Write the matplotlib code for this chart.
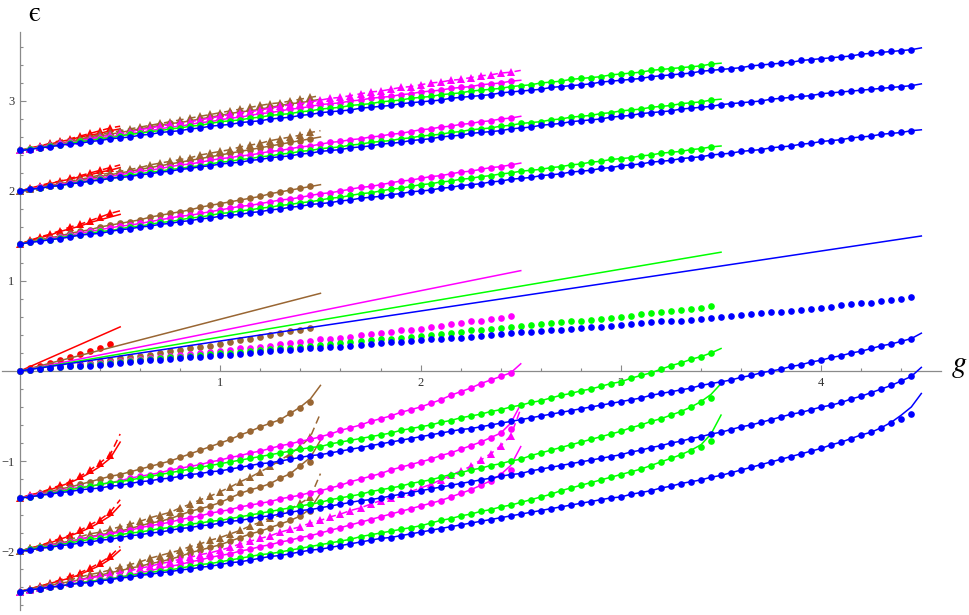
import numpy as np
import matplotlib.pyplot as plt

plt.rcParams['mathtext.fontset'] = 'stix'

STEP = 0.05  # spacing in g of the computed points

RED = '#ff0000'
BROWN = '#996633'
MAGENTA = '#ff00ff'
GREEN = '#00ff00'
BLUE = '#0000ff'

# ---------------- red family (ends at g = 0.5) ----------------
red_up1 = [1.41, 1.45, 1.48, 1.51, 1.55, 1.58, 1.61, 1.65, 1.68, 1.71]
red_up1_end = [1.74]
red_up1_tri = [1.41, 1.45, 1.49, 1.52, 1.56, 1.60, 1.63, 1.67, 1.71, 1.75]
red_up1_tri_end = [1.78]
red_up2 = [2.00, 2.03, 2.05, 2.08, 2.11, 2.13, 2.16, 2.18, 2.21, 2.23]
red_up2_end = [2.26]
red_up2_tri = [2.00, 2.03, 2.06, 2.09, 2.11, 2.14, 2.17, 2.20, 2.23, 2.26]
red_up2_tri_end = [2.29]
red_up3 = [2.45, 2.47, 2.50, 2.52, 2.55, 2.57, 2.60, 2.62, 2.64, 2.67]
red_up3_end = [2.69]
red_up3_tri = [2.45, 2.48, 2.50, 2.53, 2.56, 2.58, 2.61, 2.64, 2.67, 2.70]
red_up3_tri_end = [2.72]
red_lo1 = [-1.41, -1.38, -1.35, -1.32, -1.28, -1.24, -1.19, -1.13, -1.06, -0.97]
red_lo1_end = [-0.79]
red_lo1_tri = [-1.41, -1.38, -1.35, -1.31, -1.27, -1.23, -1.17, -1.10, -1.02, -0.93]
red_lo1_tri_end = [-0.70]
red_lo2 = [-2.00, -1.97, -1.94, -1.91, -1.87, -1.83, -1.79, -1.74, -1.68, -1.61]
red_lo2_end = [-1.49]
red_lo2_tri = [-2.00, -1.97, -1.94, -1.90, -1.86, -1.82, -1.77, -1.71, -1.65, -1.57]
red_lo2_tri_end = [-1.43]
red_lo3 = [-2.45, -2.42, -2.39, -2.36, -2.33, -2.30, -2.26, -2.21, -2.16, -2.09]
red_lo3_end = [-1.99]
red_lo3_tri = [-2.45, -2.42, -2.39, -2.36, -2.32, -2.28, -2.24, -2.19, -2.13, -2.06]
red_lo3_tri_end = [-1.95]
red_mid = [0.00, 0.03, 0.06, 0.09, 0.12, 0.15, 0.185, 0.22, 0.255, 0.295]
red_mid_line = [0.0, 0.49]

# ---------------- brown family (ends at g = 1.5) ----------------
brown_up1 = [1.41, 1.44, 1.46, 1.48, 1.50, 1.53, 1.55, 1.57, 1.60, 1.62,
             1.64, 1.66, 1.68, 1.71, 1.73, 1.75, 1.77, 1.79, 1.82, 1.84,
             1.86, 1.88, 1.90, 1.92, 1.94, 1.97, 1.99, 2.01, 2.03, 2.05]
brown_up1_end = [2.07]
brown_up2 = [2.00, 2.02, 2.04, 2.06, 2.08, 2.10, 2.12, 2.14, 2.16, 2.18,
             2.20, 2.22, 2.24, 2.26, 2.28, 2.30, 2.32, 2.34, 2.36, 2.38,
             2.40, 2.42, 2.44, 2.46, 2.48, 2.50, 2.52, 2.54, 2.56, 2.58]
brown_up2_end = [2.60]
brown_up2_tri = [2.00, 2.02, 2.04, 2.07, 2.09, 2.11, 2.13, 2.15, 2.18, 2.20,
                 2.22, 2.24, 2.26, 2.29, 2.31, 2.33, 2.35, 2.37, 2.40, 2.42,
                 2.44, 2.46, 2.49, 2.51, 2.53, 2.56, 2.58, 2.60, 2.62, 2.65]
brown_up2_tri_end = [2.67]
brown_up3 = [2.45, 2.47, 2.49, 2.51, 2.53, 2.55, 2.57, 2.59, 2.61, 2.63,
             2.65, 2.67, 2.69, 2.71, 2.73, 2.75, 2.76, 2.78, 2.80, 2.82,
             2.84, 2.86, 2.88, 2.89, 2.91, 2.93, 2.95, 2.97, 2.98, 3.00]
brown_up3_end = [3.02]
brown_up3_tri = [2.45, 2.47, 2.49, 2.52, 2.54, 2.56, 2.58, 2.60, 2.63, 2.65,
                 2.67, 2.69, 2.71, 2.73, 2.75, 2.77, 2.79, 2.81, 2.83, 2.85,
                 2.87, 2.89, 2.91, 2.93, 2.95, 2.97, 2.98, 3.00, 3.02, 3.04]
brown_up3_tri_end = [3.06]
brown_lo1 = [-1.41, -1.39, -1.36, -1.34, -1.31, -1.29, -1.26, -1.23, -1.20, -1.17,
             -1.15, -1.12, -1.09, -1.06, -1.03, -1.00, -0.96, -0.92, -0.88, -0.84,
             -0.80, -0.76, -0.71, -0.67, -0.62, -0.58, -0.54, -0.47, -0.41, -0.34]
brown_lo1_end = [-0.40, -0.31, -0.16]
brown_lo2 = [-2.00, -1.98, -1.96, -1.93, -1.91, -1.89, -1.87, -1.84, -1.82, -1.80,
             -1.78, -1.75, -1.72, -1.69, -1.67, -1.64, -1.60, -1.56, -1.53, -1.50,
             -1.46, -1.41, -1.36, -1.32, -1.29, -1.25, -1.19, -1.14, -1.06, -1.01]
brown_lo2_end = [-1.05, -0.96, -0.77]
brown_lo2_tri = [-2.00, -1.97, -1.95, -1.92, -1.90, -1.87, -1.84, -1.81, -1.79, -1.76,
                 -1.73, -1.70, -1.67, -1.63, -1.60, -1.57, -1.52, -1.48, -1.43, -1.39,
                 -1.34, -1.29, -1.23, -1.18, -1.12, -1.06, -0.99, -0.92, -0.84, -0.73]
brown_lo2_tri_end = [-0.47]
brown_lo3 = [-2.45, -2.43, -2.40, -2.38, -2.36, -2.34, -2.32, -2.29, -2.27, -2.24,
             -2.22, -2.19, -2.17, -2.14, -2.12, -2.09, -2.06, -2.02, -1.99, -1.96,
             -1.93, -1.89, -1.85, -1.81, -1.78, -1.74, -1.70, -1.66, -1.61, -1.56]
brown_lo3_end = [-1.53, -1.36]
brown_lo3_tri = [-2.45, -2.42, -2.40, -2.37, -2.35, -2.32, -2.29, -2.26, -2.24, -2.21,
                 -2.18, -2.15, -2.12, -2.08, -2.05, -2.02, -1.99, -1.95, -1.92, -1.88,
                 -1.85, -1.81, -1.77, -1.72, -1.68, -1.63, -1.58, -1.53, -1.47, -1.40]
brown_lo3_tri_end = [-1.14]
brown_mid = [0.00, 0.01, 0.03, 0.04, 0.05, 0.07, 0.08, 0.09, 0.11, 0.12,
             0.14, 0.15, 0.17, 0.18, 0.20, 0.22, 0.23, 0.25, 0.27, 0.28,
             0.30, 0.32, 0.34, 0.36, 0.38, 0.40, 0.42, 0.44, 0.46, 0.48]
brown_mid_line = [0.0, 0.863]

# ---------------- magenta family (ends at g = 2.5) ----------------
mag_up1 = [1.41, 1.43, 1.45, 1.47, 1.49, 1.51, 1.53, 1.55, 1.57, 1.59,
           1.61, 1.62, 1.64, 1.66, 1.68, 1.70, 1.72, 1.73, 1.75, 1.77,
           1.79, 1.81, 1.83, 1.84, 1.86, 1.88, 1.90, 1.91, 1.93, 1.95,
           1.97, 1.98, 2.00, 2.02, 2.04, 2.05, 2.07, 2.09, 2.11, 2.12,
           2.14, 2.16, 2.17, 2.19, 2.21, 2.22, 2.24, 2.26, 2.27, 2.29]
mag_up1_end = [2.31]
mag_up2 = [2.00, 2.02, 2.04, 2.05, 2.07, 2.09, 2.11, 2.13, 2.14, 2.16,
           2.18, 2.20, 2.22, 2.23, 2.25, 2.27, 2.29, 2.30, 2.32, 2.34,
           2.36, 2.37, 2.39, 2.40, 2.42, 2.44, 2.45, 2.47, 2.49, 2.50,
           2.52, 2.54, 2.55, 2.57, 2.58, 2.60, 2.61, 2.63, 2.64, 2.66,
           2.68, 2.69, 2.71, 2.72, 2.74, 2.75, 2.77, 2.78, 2.80, 2.81]
mag_up2_end = [2.83]
mag_up3 = [2.45, 2.47, 2.48, 2.50, 2.52, 2.54, 2.55, 2.57, 2.59, 2.60,
           2.62, 2.64, 2.65, 2.67, 2.69, 2.71, 2.72, 2.74, 2.76, 2.77,
           2.79, 2.81, 2.82, 2.84, 2.86, 2.87, 2.89, 2.91, 2.92, 2.94,
           2.96, 2.97, 2.98, 3.00, 3.01, 3.03, 3.04, 3.05, 3.07, 3.08,
           3.10, 3.11, 3.12, 3.14, 3.15, 3.16, 3.18, 3.19, 3.20, 3.22]
mag_up3_end = [3.23]
mag_up3_tri = [2.45, 2.47, 2.49, 2.51, 2.53, 2.54, 2.56, 2.58, 2.60, 2.62,
               2.64, 2.66, 2.68, 2.70, 2.72, 2.74, 2.75, 2.77, 2.79, 2.81,
               2.83, 2.85, 2.87, 2.88, 2.90, 2.92, 2.94, 2.96, 2.97, 2.99,
               3.01, 3.03, 3.04, 3.06, 3.08, 3.10, 3.11, 3.13, 3.15, 3.16,
               3.18, 3.20, 3.21, 3.23, 3.24, 3.26, 3.28, 3.29, 3.31, 3.32]
mag_up3_tri_end = [3.34]
mag_lo1 = [-1.41, -1.39, -1.37, -1.35, -1.33, -1.31, -1.29, -1.28, -1.26, -1.24,
           -1.22, -1.19, -1.17, -1.15, -1.13, -1.10, -1.08, -1.06, -1.04, -1.01,
           -0.99, -0.96, -0.94, -0.91, -0.89, -0.86, -0.83, -0.81, -0.78, -0.76,
           -0.73, -0.70, -0.66, -0.63, -0.60, -0.56, -0.53, -0.50, -0.46, -0.43,
           -0.40, -0.36, -0.32, -0.27, -0.23, -0.19, -0.14, -0.10, -0.06, -0.02]
mag_lo1_end = [0.08]
mag_lo2 = [-2.00, -1.98, -1.96, -1.94, -1.92, -1.90, -1.87, -1.85, -1.83, -1.81,
           -1.79, -1.77, -1.74, -1.72, -1.70, -1.68, -1.65, -1.63, -1.61, -1.58,
           -1.56, -1.54, -1.51, -1.49, -1.47, -1.45, -1.42, -1.40, -1.38, -1.35,
           -1.33, -1.30, -1.27, -1.23, -1.20, -1.17, -1.14, -1.10, -1.07, -1.04,
           -1.01, -0.98, -0.94, -0.91, -0.87, -0.83, -0.79, -0.74, -0.69, -0.64]
mag_lo2_end = [-0.58, -0.37]
mag_lo3 = [-2.45, -2.43, -2.42, -2.40, -2.39, -2.37, -2.35, -2.34, -2.32, -2.31,
           -2.29, -2.27, -2.24, -2.22, -2.19, -2.17, -2.15, -2.12, -2.10, -2.07,
           -2.05, -2.03, -2.00, -1.98, -1.95, -1.93, -1.90, -1.88, -1.85, -1.83,
           -1.80, -1.77, -1.74, -1.71, -1.68, -1.65, -1.62, -1.59, -1.56, -1.53,
           -1.50, -1.47, -1.44, -1.40, -1.36, -1.32, -1.27, -1.22, -1.16, -1.10]
mag_lo3_end = [-1.15, -1.05, -0.84]
mag_lo3_tri = [-2.45, -2.43, -2.41, -2.39, -2.37, -2.35, -2.32, -2.30, -2.28, -2.26,
               -2.24, -2.22, -2.19, -2.17, -2.14, -2.12, -2.09, -2.07, -2.04, -2.02,
               -1.99, -1.96, -1.92, -1.89, -1.86, -1.83, -1.79, -1.76, -1.73, -1.69,
               -1.66, -1.62, -1.59, -1.55, -1.52, -1.48, -1.44, -1.41, -1.37, -1.34,
               -1.30, -1.26, -1.21, -1.16, -1.11, -1.06, -0.99, -0.92, -0.83, -0.72]
mag_lo3_tri_end = [-0.42]
mag_mid = [0.00, 0.01, 0.02, 0.03, 0.04, 0.06, 0.07, 0.08, 0.09, 0.10,
           0.11, 0.12, 0.13, 0.14, 0.15, 0.17, 0.18, 0.19, 0.20, 0.21,
           0.22, 0.23, 0.25, 0.26, 0.27, 0.28, 0.30, 0.31, 0.32, 0.33,
           0.35, 0.36, 0.37, 0.38, 0.40, 0.41, 0.42, 0.43, 0.45, 0.46,
           0.47, 0.49, 0.50, 0.52, 0.53, 0.55, 0.56, 0.58, 0.59, 0.61]
mag_mid_line = [0.0, 1.115]

# ---------------- green family (ends at g = 3.5) ----------------
green_up1 = [1.41, 1.43, 1.45, 1.46, 1.48, 1.50, 1.51, 1.53, 1.55, 1.56,
             1.58, 1.60, 1.61, 1.63, 1.65, 1.66, 1.68, 1.70, 1.71, 1.73,
             1.75, 1.76, 1.78, 1.79, 1.81, 1.82, 1.84, 1.85, 1.87, 1.88,
             1.90, 1.92, 1.93, 1.95, 1.97, 1.98, 2.00, 2.02, 2.03, 2.05,
             2.07, 2.08, 2.10, 2.11, 2.13, 2.14, 2.16, 2.17, 2.19, 2.20,
             2.22, 2.23, 2.24, 2.26, 2.27, 2.29, 2.30, 2.32, 2.33, 2.35,
             2.36, 2.37, 2.39, 2.40, 2.42, 2.43, 2.44, 2.46, 2.47, 2.49]
green_up1_end = [2.50]
green_up2 = [2.00, 2.02, 2.03, 2.05, 2.06, 2.08, 2.10, 2.11, 2.13, 2.14,
             2.16, 2.18, 2.19, 2.21, 2.22, 2.24, 2.25, 2.27, 2.28, 2.30,
             2.32, 2.33, 2.35, 2.36, 2.38, 2.39, 2.41, 2.42, 2.44, 2.45,
             2.47, 2.48, 2.49, 2.51, 2.52, 2.54, 2.55, 2.56, 2.58, 2.59,
             2.61, 2.62, 2.63, 2.65, 2.66, 2.68, 2.69, 2.70, 2.72, 2.73,
             2.75, 2.76, 2.77, 2.79, 2.80, 2.82, 2.83, 2.84, 2.86, 2.87,
             2.89, 2.90, 2.91, 2.93, 2.94, 2.95, 2.97, 2.98, 2.99, 3.01]
green_up2_end = [3.02]
green_up3 = [2.45, 2.47, 2.48, 2.50, 2.51, 2.53, 2.55, 2.56, 2.58, 2.59,
             2.61, 2.63, 2.64, 2.66, 2.67, 2.69, 2.70, 2.72, 2.73, 2.75,
             2.77, 2.78, 2.79, 2.81, 2.82, 2.84, 2.85, 2.86, 2.88, 2.89,
             2.91, 2.92, 2.93, 2.95, 2.96, 2.97, 2.99, 3.00, 3.01, 3.03,
             3.04, 3.05, 3.07, 3.08, 3.09, 3.11, 3.12, 3.13, 3.14, 3.16,
             3.17, 3.18, 3.20, 3.21, 3.22, 3.24, 3.25, 3.26, 3.27, 3.29,
             3.30, 3.31, 3.32, 3.34, 3.35, 3.36, 3.37, 3.38, 3.39, 3.41]
green_up3_end = [3.42]
green_lo1 = [-1.41, -1.40, -1.38, -1.36, -1.34, -1.32, -1.30, -1.28, -1.26, -1.24,
             -1.23, -1.21, -1.19, -1.17, -1.15, -1.13, -1.11, -1.09, -1.07, -1.05,
             -1.03, -1.01, -0.99, -0.97, -0.95, -0.93, -0.91, -0.89, -0.87, -0.85,
             -0.84, -0.81, -0.79, -0.77, -0.75, -0.73, -0.71, -0.69, -0.66, -0.64,
             -0.62, -0.60, -0.57, -0.55, -0.52, -0.50, -0.48, -0.45, -0.43, -0.40,
             -0.38, -0.35, -0.33, -0.30, -0.27, -0.25, -0.22, -0.20, -0.17, -0.14,
             -0.12, -0.08, -0.05, -0.02, 0.02, 0.06, 0.09, 0.13, 0.16, 0.20]
green_lo1_end = [0.25]
green_lo2 = [-2.00, -1.98, -1.96, -1.95, -1.93, -1.91, -1.89, -1.87, -1.86, -1.84,
             -1.82, -1.80, -1.79, -1.77, -1.75, -1.74, -1.72, -1.70, -1.69, -1.67,
             -1.66, -1.64, -1.62, -1.60, -1.58, -1.56, -1.54, -1.52, -1.50, -1.48,
             -1.46, -1.43, -1.41, -1.39, -1.37, -1.34, -1.32, -1.30, -1.28, -1.25,
             -1.23, -1.21, -1.18, -1.15, -1.13, -1.10, -1.08, -1.05, -1.03, -1.00,
             -0.98, -0.94, -0.91, -0.88, -0.85, -0.82, -0.79, -0.76, -0.73, -0.70,
             -0.67, -0.63, -0.60, -0.56, -0.53, -0.49, -0.45, -0.40, -0.35, -0.30]
green_lo2_end = [-0.34, -0.26, -0.14]
green_lo3 = [-2.45, -2.43, -2.42, -2.40, -2.39, -2.37, -2.35, -2.34, -2.32, -2.31,
             -2.29, -2.27, -2.26, -2.24, -2.22, -2.21, -2.19, -2.17, -2.15, -2.14,
             -2.12, -2.10, -2.08, -2.06, -2.04, -2.03, -2.01, -1.99, -1.97, -1.95,
             -1.93, -1.91, -1.89, -1.87, -1.84, -1.82, -1.80, -1.78, -1.76, -1.74,
             -1.72, -1.69, -1.66, -1.64, -1.61, -1.59, -1.56, -1.54, -1.51, -1.49,
             -1.46, -1.43, -1.40, -1.37, -1.33, -1.30, -1.27, -1.24, -1.21, -1.18,
             -1.15, -1.12, -1.09, -1.05, -1.01, -0.97, -0.93, -0.89, -0.84, -0.78]
green_lo3_end = [-0.88, -0.82, -0.70, -0.49]
green_mid = [0.00, 0.01, 0.02, 0.03, 0.04, 0.05, 0.06, 0.07, 0.08, 0.09,
             0.10, 0.11, 0.12, 0.13, 0.14, 0.15, 0.16, 0.17, 0.18, 0.19,
             0.20, 0.20, 0.21, 0.22, 0.23, 0.24, 0.25, 0.26, 0.27, 0.28,
             0.29, 0.30, 0.31, 0.32, 0.33, 0.34, 0.35, 0.36, 0.37, 0.38,
             0.39, 0.40, 0.41, 0.42, 0.43, 0.45, 0.46, 0.47, 0.48, 0.49,
             0.50, 0.51, 0.52, 0.53, 0.54, 0.55, 0.56, 0.57, 0.58, 0.59,
             0.60, 0.61, 0.63, 0.64, 0.65, 0.67, 0.68, 0.69, 0.70, 0.72]
green_mid_line = [0.0, 1.32]

# ---------------- blue family (ends at g = 4.5) ----------------
blue_up1 = [1.41, 1.43, 1.44, 1.46, 1.47, 1.49, 1.51, 1.52, 1.53, 1.55,
            1.57, 1.58, 1.60, 1.61, 1.63, 1.64, 1.66, 1.67, 1.69, 1.70,
            1.72, 1.73, 1.74, 1.76, 1.77, 1.79, 1.80, 1.82, 1.83, 1.85,
            1.86, 1.87, 1.89, 1.90, 1.92, 1.93, 1.94, 1.96, 1.97, 1.99,
            2.00, 2.01, 2.03, 2.04, 2.06, 2.07, 2.08, 2.10, 2.11, 2.13,
            2.14, 2.15, 2.17, 2.18, 2.19, 2.21, 2.22, 2.23, 2.25, 2.26,
            2.28, 2.29, 2.30, 2.32, 2.33, 2.34, 2.36, 2.37, 2.38, 2.40,
            2.41, 2.42, 2.44, 2.45, 2.46, 2.48, 2.49, 2.50, 2.52, 2.53,
            2.55, 2.56, 2.57, 2.59, 2.60, 2.61, 2.63, 2.64, 2.65, 2.67]
blue_up1_end = [2.68]
blue_up2 = [2.00, 2.02, 2.03, 2.05, 2.06, 2.08, 2.09, 2.11, 2.12, 2.14,
            2.15, 2.16, 2.18, 2.19, 2.21, 2.22, 2.24, 2.25, 2.27, 2.28,
            2.30, 2.31, 2.32, 2.34, 2.35, 2.37, 2.38, 2.39, 2.41, 2.42,
            2.44, 2.45, 2.46, 2.48, 2.49, 2.50, 2.52, 2.53, 2.54, 2.56,
            2.57, 2.58, 2.60, 2.61, 2.62, 2.64, 2.65, 2.66, 2.67, 2.69,
            2.70, 2.71, 2.73, 2.74, 2.75, 2.77, 2.78, 2.79, 2.80, 2.82,
            2.83, 2.84, 2.86, 2.87, 2.88, 2.89, 2.91, 2.92, 2.93, 2.94,
            2.96, 2.97, 2.98, 2.99, 3.00, 3.02, 3.03, 3.04, 3.05, 3.06,
            3.08, 3.09, 3.10, 3.11, 3.12, 3.13, 3.14, 3.15, 3.16, 3.17]
blue_up2_end = [3.19]
blue_up3 = [2.45, 2.46, 2.48, 2.49, 2.51, 2.52, 2.53, 2.55, 2.56, 2.58,
            2.59, 2.60, 2.62, 2.63, 2.65, 2.66, 2.67, 2.69, 2.70, 2.72,
            2.73, 2.74, 2.76, 2.77, 2.78, 2.80, 2.81, 2.82, 2.84, 2.85,
            2.87, 2.88, 2.89, 2.90, 2.92, 2.93, 2.94, 2.95, 2.97, 2.98,
            2.99, 3.00, 3.01, 3.03, 3.04, 3.05, 3.06, 3.07, 3.09, 3.10,
            3.11, 3.12, 3.13, 3.15, 3.16, 3.17, 3.18, 3.19, 3.21, 3.22,
            3.23, 3.24, 3.25, 3.27, 3.28, 3.29, 3.30, 3.31, 3.33, 3.34,
            3.35, 3.36, 3.37, 3.39, 3.40, 3.41, 3.42, 3.43, 3.45, 3.46,
            3.47, 3.48, 3.49, 3.50, 3.52, 3.53, 3.54, 3.55, 3.56, 3.57]
blue_up3_end = [3.59]
blue_lo1 = [-1.41, -1.40, -1.38, -1.37, -1.35, -1.34, -1.32, -1.31, -1.30, -1.28,
            -1.27, -1.25, -1.23, -1.22, -1.20, -1.19, -1.17, -1.15, -1.14, -1.12,
            -1.11, -1.09, -1.07, -1.05, -1.03, -1.02, -1.00, -0.98, -0.96, -0.94,
            -0.93, -0.91, -0.89, -0.87, -0.85, -0.83, -0.81, -0.79, -0.77, -0.75,
            -0.73, -0.71, -0.69, -0.67, -0.65, -0.64, -0.62, -0.60, -0.58, -0.56,
            -0.54, -0.52, -0.50, -0.48, -0.46, -0.44, -0.42, -0.40, -0.38, -0.36,
            -0.34, -0.32, -0.30, -0.27, -0.25, -0.23, -0.21, -0.19, -0.16, -0.14,
            -0.12, -0.10, -0.07, -0.05, -0.02, 0.00, 0.02, 0.05, 0.07, 0.10,
            0.12, 0.15, 0.17, 0.20, 0.22, 0.25, 0.28, 0.30, 0.33, 0.36]
blue_lo1_end = [0.42]
blue_lo2 = [-2.00, -1.99, -1.97, -1.96, -1.94, -1.93, -1.91, -1.90, -1.88, -1.87,
            -1.85, -1.83, -1.82, -1.80, -1.79, -1.77, -1.75, -1.74, -1.72, -1.71,
            -1.69, -1.67, -1.66, -1.64, -1.62, -1.61, -1.59, -1.57, -1.55, -1.54,
            -1.52, -1.50, -1.48, -1.46, -1.44, -1.43, -1.41, -1.39, -1.37, -1.35,
            -1.33, -1.31, -1.29, -1.27, -1.25, -1.23, -1.21, -1.19, -1.17, -1.15,
            -1.14, -1.11, -1.09, -1.07, -1.05, -1.03, -1.01, -0.99, -0.97, -0.95,
            -0.93, -0.90, -0.88, -0.85, -0.83, -0.80, -0.78, -0.75, -0.73, -0.70,
            -0.68, -0.65, -0.62, -0.60, -0.57, -0.54, -0.51, -0.48, -0.46, -0.43,
            -0.40, -0.38, -0.35, -0.31, -0.28, -0.24, -0.20, -0.16, -0.11, -0.06]
blue_lo2_end = [0.04]
blue_lo3 = [-2.45, -2.43, -2.42, -2.40, -2.39, -2.37, -2.36, -2.35, -2.33, -2.32,
            -2.30, -2.29, -2.27, -2.26, -2.24, -2.23, -2.21, -2.20, -2.18, -2.17,
            -2.15, -2.13, -2.12, -2.10, -2.08, -2.06, -2.05, -2.03, -2.01, -1.99,
            -1.98, -1.96, -1.94, -1.92, -1.90, -1.88, -1.86, -1.85, -1.83, -1.81,
            -1.79, -1.77, -1.75, -1.73, -1.71, -1.69, -1.67, -1.65, -1.63, -1.61,
            -1.59, -1.57, -1.55, -1.53, -1.51, -1.49, -1.47, -1.45, -1.43, -1.41,
            -1.40, -1.37, -1.35, -1.33, -1.30, -1.28, -1.25, -1.23, -1.21, -1.18,
            -1.16, -1.13, -1.10, -1.07, -1.04, -1.01, -0.98, -0.95, -0.92, -0.89,
            -0.86, -0.82, -0.79, -0.75, -0.71, -0.68, -0.63, -0.58, -0.53, -0.48]
blue_lo3_end = [-0.57, -0.49, -0.40, -0.25]
blue_mid = [0.00, 0.01, 0.02, 0.03, 0.04, 0.05, 0.05, 0.06, 0.07, 0.08,
            0.09, 0.10, 0.11, 0.12, 0.12, 0.13, 0.14, 0.15, 0.16, 0.17,
            0.18, 0.18, 0.19, 0.20, 0.21, 0.22, 0.23, 0.23, 0.24, 0.25,
            0.26, 0.27, 0.27, 0.28, 0.29, 0.30, 0.31, 0.32, 0.32, 0.33,
            0.34, 0.35, 0.36, 0.37, 0.37, 0.38, 0.39, 0.40, 0.41, 0.42,
            0.43, 0.43, 0.44, 0.45, 0.46, 0.47, 0.48, 0.49, 0.49, 0.50,
            0.51, 0.52, 0.53, 0.54, 0.55, 0.56, 0.56, 0.57, 0.58, 0.59,
            0.60, 0.61, 0.62, 0.63, 0.64, 0.65, 0.66, 0.67, 0.68, 0.69,
            0.70, 0.71, 0.73, 0.74, 0.75, 0.76, 0.78, 0.79, 0.80, 0.82]
blue_mid_line = [0.0, 1.50]

# kind: 'line' = solid only, 'dots' = solid with dots, 'tri' = dashed with triangles
families = [
    (RED, red_mid, red_mid_line, [
        (red_up1, red_up1_end, 'line'), (red_up1_tri, red_up1_tri_end, 'tri'),
        (red_up2, red_up2_end, 'line'), (red_up2_tri, red_up2_tri_end, 'tri'),
        (red_up3, red_up3_end, 'line'), (red_up3_tri, red_up3_tri_end, 'tri'),
        (red_lo1, red_lo1_end, 'line'), (red_lo1_tri, red_lo1_tri_end, 'tri'),
        (red_lo2, red_lo2_end, 'line'), (red_lo2_tri, red_lo2_tri_end, 'tri'),
        (red_lo3, red_lo3_end, 'line'), (red_lo3_tri, red_lo3_tri_end, 'tri')]),
    (BROWN, brown_mid, brown_mid_line, [
        (brown_up1, brown_up1_end, 'dots'),
        (brown_up2, brown_up2_end, 'dots'), (brown_up2_tri, brown_up2_tri_end, 'tri'),
        (brown_up3, brown_up3_end, 'dots'), (brown_up3_tri, brown_up3_tri_end, 'tri'),
        (brown_lo1, brown_lo1_end, 'dots'),
        (brown_lo2, brown_lo2_end, 'dots'), (brown_lo2_tri, brown_lo2_tri_end, 'tri'),
        (brown_lo3, brown_lo3_end, 'dots'), (brown_lo3_tri, brown_lo3_tri_end, 'tri')]),
    (MAGENTA, mag_mid, mag_mid_line, [
        (mag_up1, mag_up1_end, 'dots'), (mag_up2, mag_up2_end, 'dots'),
        (mag_up3, mag_up3_end, 'dots'), (mag_up3_tri, mag_up3_tri_end, 'tri'),
        (mag_lo1, mag_lo1_end, 'dots'), (mag_lo2, mag_lo2_end, 'dots'),
        (mag_lo3, mag_lo3_end, 'dots'), (mag_lo3_tri, mag_lo3_tri_end, 'tri')]),
    (GREEN, green_mid, green_mid_line, [
        (green_up1, green_up1_end, 'dots'), (green_up2, green_up2_end, 'dots'),
        (green_up3, green_up3_end, 'dots'), (green_lo1, green_lo1_end, 'dots'),
        (green_lo2, green_lo2_end, 'dots'), (green_lo3, green_lo3_end, 'dots')]),
    (BLUE, blue_mid, blue_mid_line, [
        (blue_up1, blue_up1_end, 'dots'), (blue_up2, blue_up2_end, 'dots'),
        (blue_up3, blue_up3_end, 'dots'), (blue_lo1, blue_lo1_end, 'dots'),
        (blue_lo2, blue_lo2_end, 'dots'), (blue_lo3, blue_lo3_end, 'dots')]),
]

fig = plt.figure(figsize=(9.69, 6.15), dpi=100)
ax = fig.add_axes([0, 0, 1, 1])

LW = 1.1
DOT = 4.8
TRI = 6.4
for z, (col, mid, mid_line, curves) in enumerate(families):
    zo = 2 + z
    gc = len(mid) * STEP
    for vals, end, kind in curves:
        keep = len(vals) + 1 - len(end)
        yl = list(vals[:keep]) + list(end)
        gl = np.arange(len(yl)) * STEP
        ls = (0, (5, 3)) if kind == 'tri' else '-'
        ax.plot(gl, yl, color=col, lw=LW, ls=ls, zorder=zo)
    for vals, end, kind in curves:
        g = np.arange(len(vals)) * STEP
        if kind == 'dots':
            ax.plot(g, vals, ls='none', marker='o', ms=DOT, mew=0, color=col, zorder=zo)
        elif kind == 'tri':
            ax.plot(g, vals, ls='none', marker='^', ms=TRI, mew=0, color=col, zorder=zo)
    ax.plot(np.linspace(0, gc, len(mid_line)), mid_line, color=col, lw=LW, zorder=zo)
    ax.plot(np.arange(len(mid)) * STEP, mid, ls='none', marker='o', ms=DOT, mew=0,
            color=col, zorder=zo)

ax.set_xlim(-0.0999, 4.738)
ax.set_ylim(-2.711, 4.122)
ax.patch.set_visible(False)

AXC = '#8a8a8a'
for side in ['top', 'right']:
    ax.spines[side].set_visible(False)
ax.spines['left'].set_position(('data', 0))
ax.spines['bottom'].set_position(('data', 0))
ax.spines['bottom'].set_bounds(-0.09, 4.6)
ax.spines['left'].set_bounds(-2.65, 3.77)
for side in ['left', 'bottom']:
    ax.spines[side].set_color(AXC)
    ax.spines[side].set_linewidth(0.9)

ax.set_xticks([1, 2, 3, 4])
ax.set_xticks([round(0.2 * k, 1) for k in range(1, 23) if k % 5], minor=True)
ax.set_yticks([-2, -1, 1, 2, 3])
ax.set_yticks([round(0.2 * k, 1) for k in range(-13, 19) if k % 5], minor=True)
ax.tick_params(which='both', direction='in', color=AXC, width=0.8)
ax.tick_params(which='major', length=4.5, labelsize=9, labelcolor='#333333', pad=4)
ax.tick_params(which='minor', length=2.5)
for lab in ax.get_xticklabels() + ax.get_yticklabels():
    lab.set_fontfamily('Liberation Serif')

# axis names: lunate epsilon and g
ax.text(0.04, 3.89, '\u03f5', fontsize=20, ha='left', va='baseline',
        family=['STIXGeneral', 'DejaVu Serif'])
ax.text(4.648, -0.01, r'$g$', fontsize=22, ha='left', va='baseline')

fig.savefig('out.png', dpi=100)
